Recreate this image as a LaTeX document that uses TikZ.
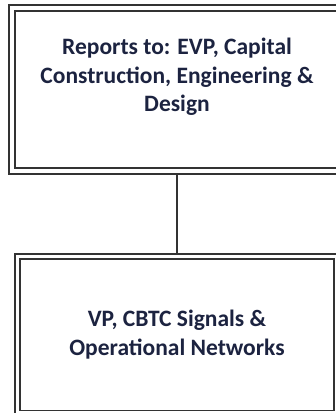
\documentclass[tikz,border=0pt]{standalone}
\usepackage{fontspec}
\setmainfont{Carlito}
\usepackage{xcolor}
\usetikzlibrary{positioning,backgrounds}
\definecolor{navytext}{HTML}{1C2340}
\definecolor{bk80}{HTML}{333333}
\tikzset{
  orgbox/.style={
    rectangle, draw=bk80, line width=1.6pt, double=white,
    double distance=#1, fill=white, outer sep=0pt,
    font=\fontsize{23.5pt}{28.5pt}\selectfont\bfseries, text=navytext,
    align=center, inner sep=0pt
  },
  orgbox/.default=3.6pt,
  reportline/.style={draw=bk80, line width=1.8pt},
}
\begin{document}
\begin{tikzpicture}[x=1pt,y=1pt]
  \useasboundingbox (0,0) rectangle (336,413);
  \clip (0,0) rectangle (336,413);

  % Reports-to box at top
  \node[orgbox=4.4pt, minimum width=330pt, minimum height=163pt]
    (boss) at (177,323.5)
    {Reports to: EVP, Capital\\Construction, Engineering \&\\Design\\~};

  % Position box below
  \node[orgbox, minimum width=319pt, minimum height=156.5pt,
        below=85.5pt of boss] (vp)
    {VP, CBTC Signals \&\\Operational Networks};

  % Reporting line
  \begin{scope}[on background layer]
    \draw[reportline] (boss) -- (vp);
  \end{scope}
\end{tikzpicture}
\end{document}
